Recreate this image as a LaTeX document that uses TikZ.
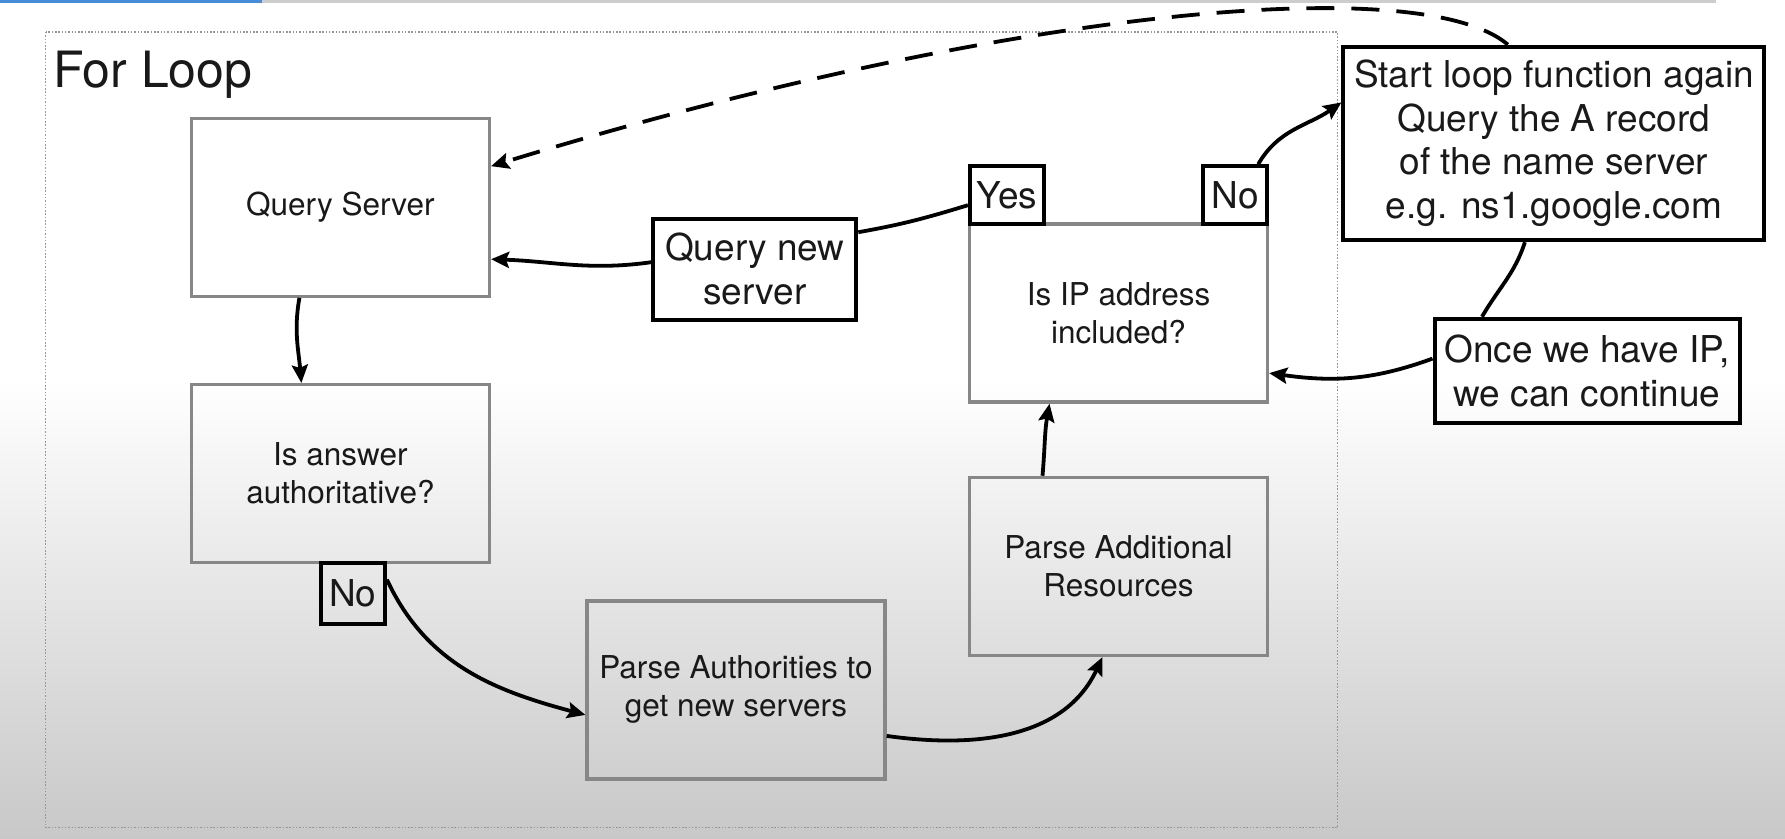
\documentclass[tikz,border=0pt]{standalone}
\usepackage{fontspec}
\setmainfont{TeX Gyre Heros}
\usetikzlibrary{arrows.meta,calc}
\definecolor{boxgray}{RGB}{135,135,135}
\definecolor{framegray}{RGB}{150,150,150}
\definecolor{bggray}{RGB}{200,200,200}
\definecolor{progblue}{RGB}{70,140,215}
\definecolor{proggray}{RGB}{205,205,205}
\definecolor{txt}{RGB}{25,25,25}
\newcommand{\graytext}{\fontsize{31.5}{38}\selectfont}
\newcommand{\blacktext}{\fontsize{37}{43.5}\selectfont}
\begin{document}
\begin{tikzpicture}[x=1pt,y=1pt,
  graybox/.style={draw=boxgray, line width=3.3pt, minimum width=298pt, minimum height=178pt, inner sep=0pt, align=center, font=\graytext, text=txt},
  lab/.style={draw=black, line width=4pt, inner sep=0pt, align=center, font=\blacktext, text=txt},
  conn/.style={line width=3.8pt, draw=black},
  arr/.style={conn, -{Stealth[length=18pt,width=16pt,inset=3pt]}},
]
\useasboundingbox (0,0) rectangle (1785,-838);
\fill[white] (0,0) rectangle (1785,-380);
\shade[top color=white, bottom color=bggray] (0,-380) rectangle (1785,-838);
\fill[progblue] (0,0) rectangle (262,-2.5);
\fill[proggray] (262,0) rectangle (1716,-2.5);
\draw[framegray, line width=1.5pt, dash pattern=on 1.5pt off 1.8pt] (45.5,-31.9) rectangle (1337.6,-827.6);

\node[anchor=base west, font=\fontsize{50}{60}\selectfont, inner sep=0pt, text=txt] (title) at (53,-87.7) {For Loop};

\node[graybox] (qs) at (340.4,-207.2) {Query Server};
\node[graybox] (ans) at (340.4,-473.6) {Is answer\\authoritative?};
\node[graybox] (pa) at (736,-689.9) {Parse Authorities to\\get new servers};
\node[graybox] (pad) at (1118.5,-566.4) {Parse Additional\\Resources};
\node[graybox] (ip) at (1118.5,-313.1) {Is IP address\\included?};

\node[lab, minimum width=64pt, minimum height=61pt] (nob) at (352.9,-593.1) {No};
\node[lab, minimum width=74pt, minimum height=58pt] (yes) at (1006.9,-195.2) {Yes};
\node[lab, minimum width=64pt, minimum height=58pt] (not) at (1235.2,-195.2) {No};
\node[lab, minimum width=203pt, minimum height=101pt] (qn) at (754.8,-269.2) {Query new\\server};
\node[lab, minimum width=421pt, minimum height=193.5pt] (sl) at (1553.9,-143.4) {Start loop function again\\Query the A record\\of the name server\\e.g. ns1.google.com};
\node[lab, minimum width=305pt, minimum height=104.7pt] (once) at (1587,-371.1) {Once we have IP,\\we can continue};

\draw[arr] ([xshift=-41pt]qs.south) to[out=-100,in=95] ([xshift=-39pt]ans.north);
\draw[arr] ([yshift=-19pt]nob.north east) to[out=-65,in=165] ([yshift=-25pt]pa.west);
\draw[arr] ([yshift=-46pt]pa.east) to[out=-8,in=-115] ([xshift=-16pt]pad.south);
\draw[arr] ([xshift=-76pt]pad.north) to[out=85,in=-100] ([xshift=-69pt]ip.south);
\draw[conn] ([yshift=-10pt]yes.west) to[out=197,in=10] ([yshift=37pt]qn.east);
\draw[arr] ([yshift=7pt]qn.west) to[out=188,in=-2] ([yshift=-52pt]qs.east);
\draw[arr] ([xshift=23pt]not.north) to[out=60,in=215] ([yshift=41pt]sl.west);
\draw[conn] ([xshift=-29pt]sl.south) to[out=-108,in=60] ([xshift=-105pt]once.north);
\draw[arr] ([yshift=12.5pt]once.west) to[out=200,in=-8] ([yshift=-60pt]ip.east);
\draw[arr, line width=3.8pt, dash pattern=on 28pt off 17pt] ([xshift=-46pt]sl.north) .. controls (1420,30) and (1000,-10) .. ([yshift=41pt]qs.east);
\end{tikzpicture}
\end{document}
